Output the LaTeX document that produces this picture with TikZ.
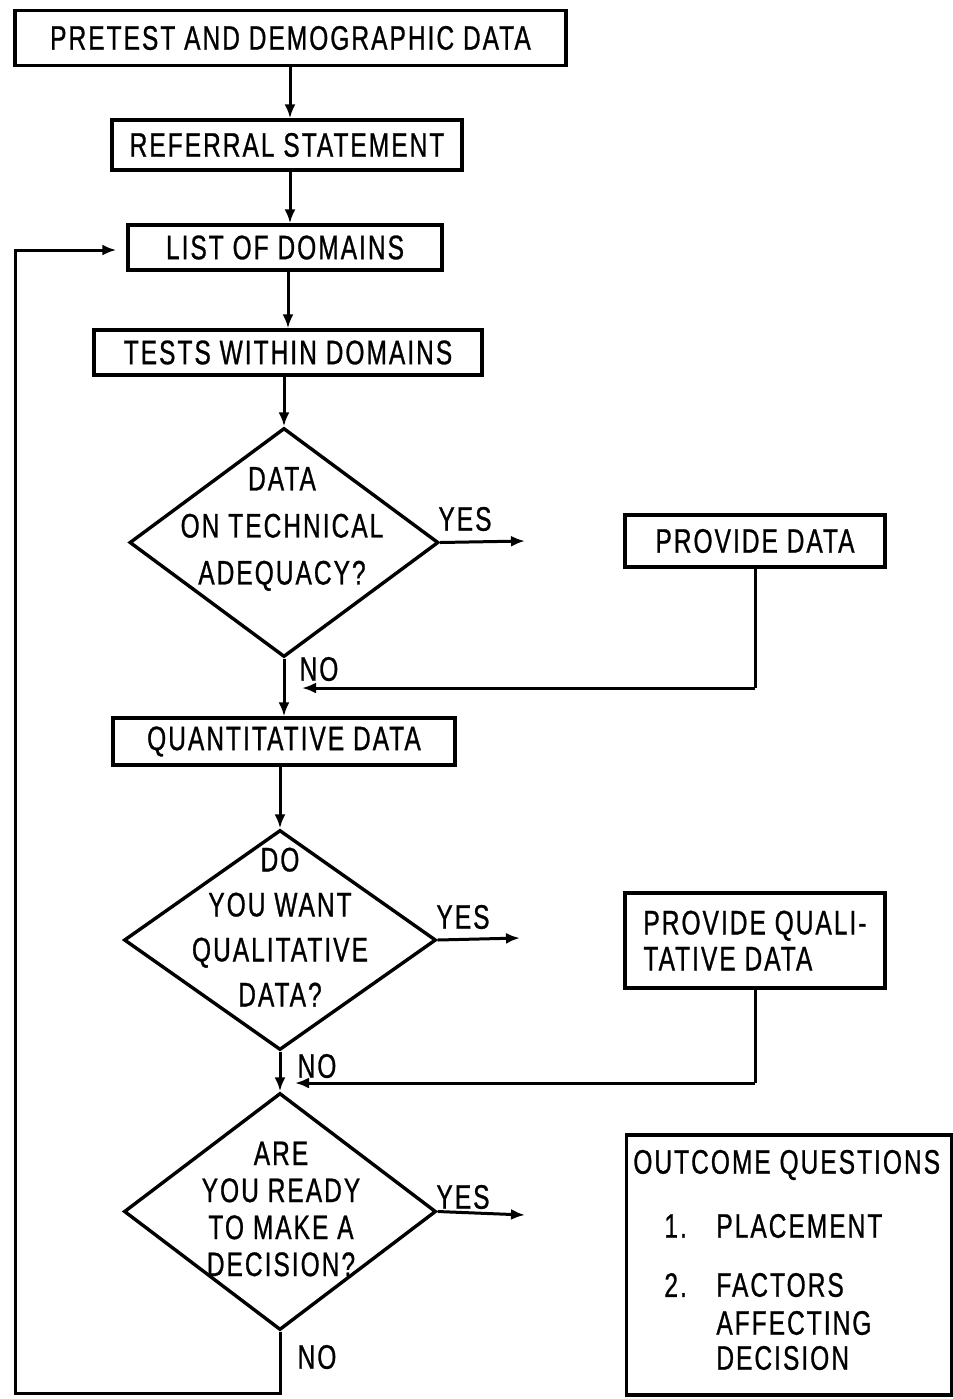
\documentclass[tikz,border=0pt]{standalone}
\usepackage{fontspec}
\setmainfont[FakeStretch=0.72,LetterSpace=6,FakeBold=0.8]{Liberation Sans}
\usetikzlibrary{arrows.meta,shapes.geometric}
\begin{document}
\begin{tikzpicture}[x=0.5pt,y=-0.5pt,
  every node/.style={font=\fontsize{17}{22}\selectfont},
  box/.style={draw, line width=1.7pt, inner sep=0pt},
  dia/.style={draw, diamond, line width=1.7pt, inner sep=0pt},
  lbl/.style={inner sep=0pt, align=center},
  flow/.style={line width=1.5pt, -{Latex[length=7pt,width=5.5pt]}},
  plain/.style={line width=1.5pt}]
\useasboundingbox (0,0) rectangle (953,1399);

% boxes
\node[box, minimum width=275.5pt, minimum height=27.5pt] (b1) at (290.5,38) {PRETEST AND DEMOGRAPHIC DATA};
\node[box, minimum width=175pt, minimum height=25pt] (b2) at (287,145) {REFERRAL STATEMENT};
\node[box, minimum width=157pt, minimum height=22.5pt] (b3) at (285,247.5) {LIST OF DOMAINS};
\node[box, minimum width=194pt, minimum height=22.5pt] (b4) at (288,352.5) {TESTS WITHIN DOMAINS};
\node[box, minimum width=171pt, minimum height=23.5pt] (b6) at (284,741.5) {QUANTITATIVE DATA};
\node[box, minimum width=130pt, minimum height=26pt] (b5) at (755,541) {PROVIDE DATA};
\node[box, minimum width=130pt, minimum height=47.5pt, align=left, font=\fontsize{17}{18}\selectfont] (b7) at (755,940.5) {PROVIDE QUALI-\\TATIVE DATA};
\node[box, minimum width=162.5pt, minimum height=130pt] (b8) at (789,1265) {};

% outcome text
\node[lbl, anchor=west] (o0) at (633,1165) {OUTCOME QUESTIONS};
\node[lbl, anchor=west] (o1n) at (664,1226) {1.};
\node[lbl, anchor=west] (o1) at (716,1226) {PLACEMENT};
\node[lbl, anchor=west] (o2n) at (664,1285) {2.};
\node[lbl, anchor=west] (o2) at (716,1285) {FACTORS};
\node[lbl, anchor=west] (o3) at (716,1323) {AFFECTING};
\node[lbl, anchor=west] (o4) at (716,1358) {DECISION};

% diamonds
\node[dia, minimum width=154.5pt, minimum height=114.5pt] (d1) at (284,542.5) {};
\node[lbl, font=\fontsize{17}{23.5}\selectfont] (t1) at (282,529) {DATA\\ON TECHNICAL\\ADEQUACY?};
\node[dia, minimum width=156pt, minimum height=110pt] (d2) at (280,940) {};
\node[lbl, font=\fontsize{17}{22.5}\selectfont] (t2) at (280,927) {DO\\YOU WANT\\QUALITATIVE\\DATA?};
\node[dia, minimum width=156pt, minimum height=118.5pt] (d3) at (280,1211.5) {};
\node[lbl, font=\fontsize{17}{18.5}\selectfont] (t3) at (281,1209) {ARE\\YOU READY\\TO MAKE A\\DECISION?};

% yes / no labels
\node[lbl] (y1) at (465,519) {YES};
\node[lbl] (y2) at (463,917) {YES};
\node[lbl] (y3) at (463,1197) {YES};
\node[lbl] (n1) at (319,669) {NO};
\node[lbl] (n2) at (317,1066) {NO};
\node[lbl] (n3) at (317,1357) {NO};

% free ends
\coordinate (e1) at (525,541);
\coordinate (e2) at (520,938);
\coordinate (e3) at (525,1215);
\coordinate (c5) at (755,688);
\coordinate (c7) at (755,1083);
\coordinate (m1) at (288,688);
\coordinate (m2) at (285,1083);
\coordinate (l1) at (15,1393);
\coordinate (l2) at (15,250);

% connectors
\draw[flow] (b1.south -| 290,0) -- (b2.north -| 290,0);
\draw[flow] (b2.south -| 290,0) -- (b3.north -| 290,0);
\draw[flow] (b3.south -| 288,0) -- (b4.north -| 288,0);
\draw[flow] (b4.south -| d1.north) -- (d1.north);
\draw[flow] (d1.south) -- (d1.south |- b6.north);
\draw[flow] (d1.east) -- (e1);
\draw[plain] (b5.south) -- (c5);
\draw[flow, shorten >=7pt] (c5) -- (m1);
\draw[flow] (b6.south -| d2.north) -- (d2.north);
\draw[flow] (d2.east) -- (e2);
\draw[flow] (d2.south) -- (d3.north);
\draw[plain] (b7.south) -- (c7);
\draw[flow, shorten >=5pt] (c7) -- (m2);
\draw[flow] (d3.east) -- (e3);
\draw[flow, shorten >=5pt] (d3.south) -- (d3.south |- l1) -- (l1) -- (l2) -- (b3.west |- l2);
\end{tikzpicture}
\end{document}
